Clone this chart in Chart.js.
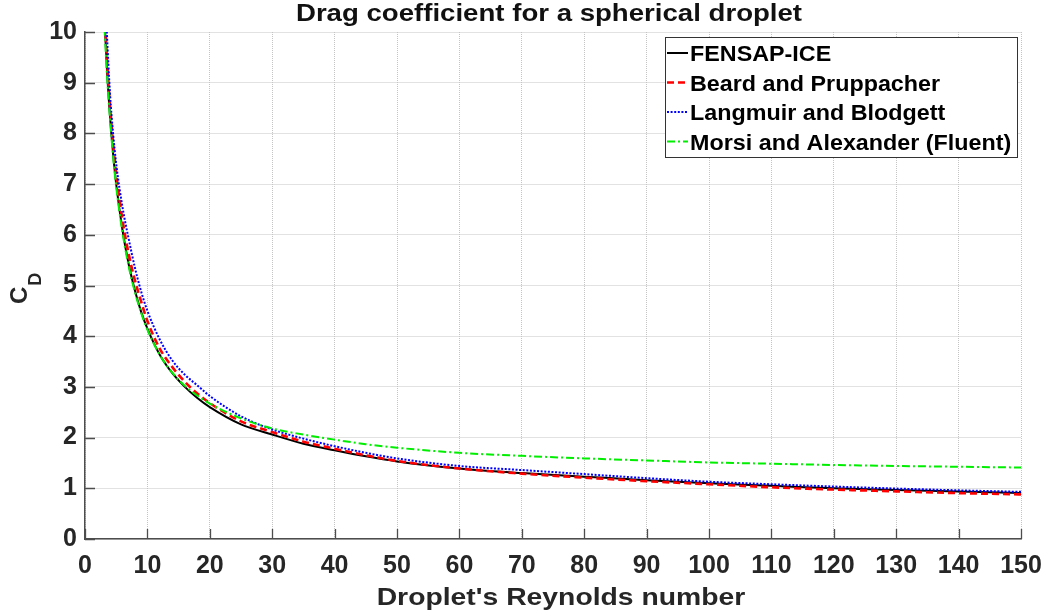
<!DOCTYPE html>
<html>
<head>
<meta charset="utf-8">
<script src="https://cdn.jsdelivr.net/npm/chart.js@4.4.1/dist/chart.umd.min.js"></script>
<style>
  html, body { margin: 0; padding: 0; background: #fff; }
  #wrap { width: 1048px; height: 616px; }
</style>
</head>
<body>
<div id="wrap"><canvas id="c" width="1048" height="616"></canvas></div>
<script>
// ---- data ----
const chartTitle = "Drag coefficient for a spherical droplet";
const xTitle = "Droplet's Reynolds number";
const yTitleMain = "C";
const yTitleSub = "D";
const seriesNames = ["FENSAP-ICE", "Beard and Pruppacher", "Langmuir and Blodgett", "Morsi and Alexander (Fluent)"];

const reynolds = [3, 3.5, 4, 4.5, 5, 6, 7, 8, 9, 10, 12, 14, 16, 18, 20, 25, 30, 35, 40, 45, 50, 60, 70, 80, 90, 100, 110, 120, 130, 140, 150];

const fensapCd   = [10.6, 9.3, 8.35, 7.6, 7.0, 6.1, 5.42, 4.9, 4.48, 4.15, 3.63, 3.27, 3.0, 2.78, 2.6, 2.26, 2.06, 1.88, 1.75, 1.63, 1.53, 1.39, 1.30, 1.23, 1.16, 1.10, 1.05, 1.00, 0.965, 0.935, 0.905];
const beardCd    = [10.8, 9.5, 8.55, 7.8, 7.2, 6.3, 5.62, 5.1, 4.68, 4.3, 3.75, 3.39, 3.1, 2.87, 2.68, 2.32, 2.11, 1.92, 1.78, 1.65, 1.54, 1.39, 1.29, 1.21, 1.14, 1.08, 1.02, 0.975, 0.94, 0.905, 0.88];
const langmuirCd = [11.5, 10.0, 8.8, 8.0, 7.4, 6.55, 5.92, 5.35, 4.88, 4.5, 3.93, 3.52, 3.24, 3.03, 2.82, 2.42, 2.16, 1.98, 1.83, 1.70, 1.59, 1.44, 1.36, 1.28, 1.20, 1.13, 1.08, 1.035, 0.995, 0.96, 0.93];
const morsiCd    = [10.4, 9.2, 8.3, 7.55, 6.95, 6.05, 5.38, 4.87, 4.46, 4.13, 3.63, 3.28, 3.02, 2.83, 2.67, 2.38, 2.18, 2.06, 1.96, 1.87, 1.80, 1.70, 1.64, 1.59, 1.55, 1.51, 1.485, 1.46, 1.44, 1.425, 1.41];

const xTickValues = [0, 10, 20, 30, 40, 50, 60, 70, 80, 90, 100, 110, 120, 130, 140, 150];
const yTickValues = [0, 1, 2, 3, 4, 5, 6, 7, 8, 9, 10];

// ---- build datasets ----
const toPoints = (ys) => reynolds.map((x, i) => ({ x: x, y: ys[i] }));
const styles = [
  { color: '#000000', width: 2,   dash: [] },
  { color: '#ff0000', width: 2.6, dash: [7, 4] },
  { color: '#0000ff', width: 2,   dash: [2, 1.6] },
  { color: '#00ee00', width: 2,   dash: [8, 3, 2, 3] }
];
const seriesData = [fensapCd, beardCd, langmuirCd, morsiCd];
const datasets = seriesData.map((ys, i) => ({
  label: seriesNames[i],
  data: toPoints(ys),
  borderColor: styles[i].color,
  borderWidth: styles[i].width,
  borderDash: styles[i].dash,
  pointRadius: 0,
  fill: false,
  cubicInterpolationMode: 'monotone',
  clip: 0,
  order: 4 - i
}));

const FONT = "'Liberation Sans', Arial, sans-serif";
const TXT = '#262626';

function drawStretched(ctx, text, x, y, size, sx, align, baseline, color) {
  ctx.save();
  ctx.font = 'bold ' + size + 'px ' + FONT;
  ctx.fillStyle = color || TXT;
  ctx.textBaseline = baseline || 'alphabetic';
  const w = ctx.measureText(text).width * sx;
  let x0 = x;
  if (align === 'center') x0 = x - w / 2;
  else if (align === 'right') x0 = x - w;
  ctx.translate(x0, y);
  ctx.scale(sx, 1);
  ctx.textAlign = 'left';
  ctx.fillText(text, 0, 0);
  ctx.restore();
}

const decorPlugin = {
  id: 'decor',
  beforeDatasetsDraw(chart) {
    const ctx = chart.ctx;
    const a = chart.chartArea;
    const xs = chart.scales.x, ys = chart.scales.y;
    ctx.save();
    ctx.strokeStyle = '#4d4d4d';
    ctx.lineWidth = 1.3;
    ctx.beginPath();
    xTickValues.forEach(v => {
      const px = Math.round(xs.getPixelForValue(v)) + 0.5;
      ctx.moveTo(px, a.bottom);
      ctx.lineTo(px, a.bottom - 10);
    });
    yTickValues.forEach(v => {
      const py = Math.round(ys.getPixelForValue(v)) + 0.5;
      ctx.moveTo(a.left, py);
      ctx.lineTo(a.left + 10, py);
    });
    ctx.stroke();
    ctx.restore();
  },
  afterDraw(chart) {
    const ctx = chart.ctx;
    const a = chart.chartArea;
    const cx = (a.left + a.right) / 2;
    // title
    drawStretched(ctx, chartTitle, cx - 4, 21, 23, 1.2, 'center', 'alphabetic', '#111');
    // x title
    drawStretched(ctx, xTitle, cx + 8, 605, 24, 1.18, 'center', 'alphabetic', TXT);
    // y title C_D rotated
    ctx.save();
    ctx.translate(27, 304);
    ctx.rotate(-Math.PI / 2);
    ctx.fillStyle = TXT;
    ctx.textBaseline = 'alphabetic';
    ctx.textAlign = 'left';
    ctx.font = 'bold 24px ' + FONT;
    ctx.fillText(yTitleMain, 0, 0);
    const cw = ctx.measureText(yTitleMain).width;
    ctx.font = 'bold 18px ' + FONT;
    ctx.fillText(yTitleSub, cw + 1, 14);
    ctx.restore();

    // legend box
    const bx = 665, by = 37, bw = 352, bh = 120;
    ctx.save();
    ctx.fillStyle = '#ffffff';
    ctx.fillRect(bx, by, bw, bh);
    ctx.strokeStyle = '#333333';
    ctx.lineWidth = 1;
    ctx.strokeRect(bx + 0.5, by + 0.5, bw, bh);
    const rowY = [53, 82.5, 112, 141.5];
    seriesNames.forEach((name, i) => {
      const st = styles[i];
      ctx.save();
      ctx.strokeStyle = st.color;
      ctx.lineWidth = st.width;
      ctx.setLineDash(st.dash);
      ctx.beginPath();
      ctx.moveTo(667, rowY[i]);
      ctx.lineTo(688, rowY[i]);
      ctx.stroke();
      ctx.restore();
      drawStretched(ctx, name, 690, rowY[i] + 8, 22, 1.06, 'left', 'alphabetic', '#000');
    });
    ctx.restore();
  }
};

new Chart(document.getElementById('c'), {
  type: 'line',
  data: { datasets: datasets },
  options: {
    responsive: false,
    animation: false,
    devicePixelRatio: 1,
    layout: { padding: { top: 32, right: 27, left: 0, bottom: 0 } },
    plugins: {
      legend: { display: false },
      tooltip: { enabled: false },
      title: { display: false }
    },
    scales: {
      x: {
        type: 'linear',
        min: 0, max: 150,
        afterBuildTicks: (s) => { s.ticks = xTickValues.map(v => ({ value: v })); },
        afterFit: (s) => { s.height = 77; s.paddingLeft = 0; s.paddingRight = 0; },
        ticks: {
          color: TXT,
          font: { family: FONT, size: 25, weight: 'bold' },
          padding: 12,
          maxRotation: 0,
          autoSkip: false
        },
        grid: { color: '#c4c4c4', lineWidth: 1, drawTicks: false },
        border: { display: true, color: '#4d4d4d', width: 1.5, dash: [1, 1] }
      },
      y: {
        type: 'linear',
        min: 0, max: 10,
        afterBuildTicks: (s) => { s.ticks = yTickValues.map(v => ({ value: v })); },
        afterFit: (s) => { s.width = 85; s.paddingTop = 0; s.paddingBottom = 0; },
        ticks: {
          color: TXT,
          font: { family: FONT, size: 25, weight: 'bold' },
          padding: 8,
          autoSkip: false
        },
        grid: { color: '#c4c4c4', lineWidth: 1, drawTicks: false },
        border: { display: true, color: '#4d4d4d', width: 1.5, dash: [1, 1] }
      }
    }
  },
  plugins: [decorPlugin]
});
</script>
</body>
</html>
